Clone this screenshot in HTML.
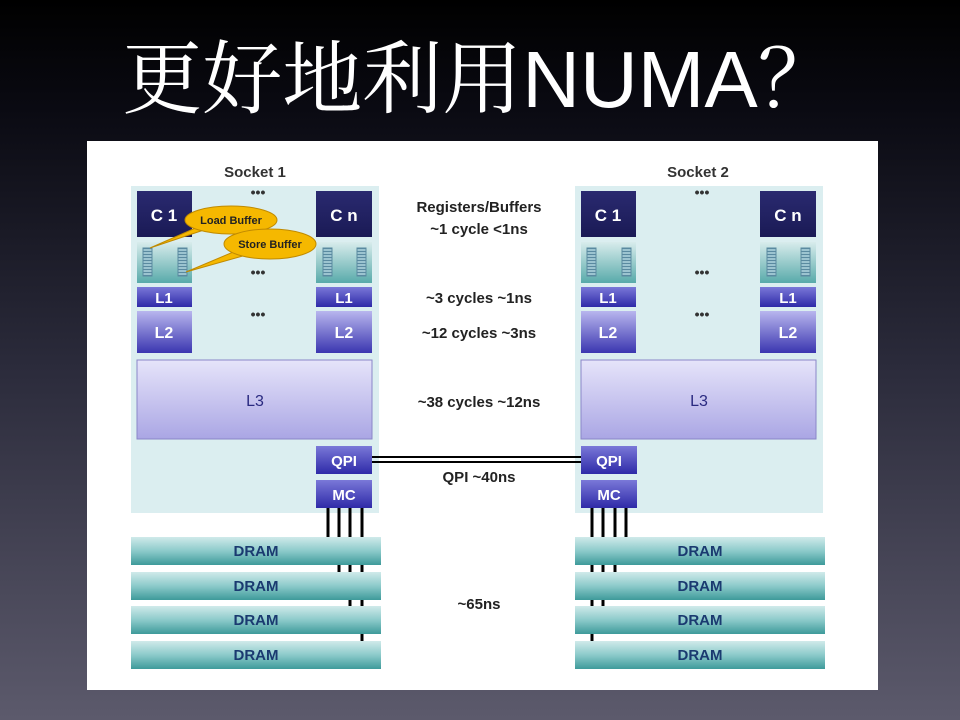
<!DOCTYPE html>
<html><head><meta charset="utf-8"><style>
html,body{margin:0;padding:0;width:960px;height:720px;overflow:hidden}
body{background:linear-gradient(#000 0%,#0a0a12 15%,#2a2a3a 50%,#5c5a6c 100%)}
.t{position:absolute;left:0;top:30px;width:960px;text-align:center;color:#fff;font-size:80px;font-family:"Liberation Sans","Noto Serif CJK SC",serif;line-height:100px}
svg{position:absolute;left:0;top:0}
text{font-family:"Liberation Sans",sans-serif;font-weight:bold}
</style></head><body>
<div class="t">更好地利用NUMA？</div>
<svg width="960" height="720" viewBox="0 0 960 720">
<defs>
<linearGradient id="core" x1="0" y1="0" x2="0" y2="1"><stop offset="0" stop-color="#2a2a70"/><stop offset="1" stop-color="#1a1a55"/></linearGradient>
<linearGradient id="blu" x1="0" y1="0" x2="0" y2="1"><stop offset="0" stop-color="#7a78d8"/><stop offset="1" stop-color="#2e2aa8"/></linearGradient>
<linearGradient id="l2" x1="0" y1="0" x2="0" y2="1"><stop offset="0" stop-color="#b8b6ee"/><stop offset="1" stop-color="#3a36b0"/></linearGradient>
<linearGradient id="l3" x1="0" y1="0" x2="0" y2="1"><stop offset="0" stop-color="#e6e4fa"/><stop offset="1" stop-color="#aaa6e4"/></linearGradient>
<linearGradient id="buf" x1="0" y1="0" x2="0" y2="1"><stop offset="0" stop-color="#d8ecec"/><stop offset="1" stop-color="#58aaaa"/></linearGradient>
<linearGradient id="dram" x1="0" y1="0" x2="0" y2="1"><stop offset="0" stop-color="#d0eaea"/><stop offset="0.5" stop-color="#8ccaca"/><stop offset="1" stop-color="#3e9a9a"/></linearGradient>
<pattern id="stripe" x="0" y="248" width="9" height="3" patternUnits="userSpaceOnUse"><rect width="9" height="3" fill="#9cc4d0"/><rect width="9" height="1" fill="#5a8aa0"/></pattern>
<g id="sock">
<rect x="131" y="186" width="248" height="327" fill="#dbeef0"/>
<rect x="137" y="191" width="55" height="46" fill="url(#core)"/>
<text x="164" y="221" fill="#fff" font-size="17" text-anchor="middle">C 1</text>
<rect x="316" y="191" width="56" height="46" fill="url(#core)"/>
<text x="344" y="221" fill="#fff" font-size="17" text-anchor="middle">C n</text>
<rect x="137" y="242" width="55" height="41" fill="url(#buf)"/>
<rect x="316" y="242" width="56" height="41" fill="url(#buf)"/>
<g fill="url(#stripe)" stroke="#5a8aa0" stroke-width="1">
<rect x="143" y="248" width="9" height="28"/><rect x="178" y="248" width="9" height="28"/>
<rect x="323" y="248" width="9" height="28"/><rect x="357" y="248" width="9" height="28"/></g>
<rect x="137" y="287" width="55" height="20" fill="url(#blu)"/>
<rect x="316" y="287" width="56" height="20" fill="url(#blu)"/>
<text x="164" y="303" fill="#fff" font-size="15" text-anchor="middle">L1</text>
<text x="344" y="303" fill="#fff" font-size="15" text-anchor="middle">L1</text>
<rect x="137" y="311" width="55" height="42" fill="url(#l2)"/>
<rect x="316" y="311" width="56" height="42" fill="url(#l2)"/>
<text x="164" y="338" fill="#fff" font-size="16" text-anchor="middle">L2</text>
<text x="344" y="338" fill="#fff" font-size="16" text-anchor="middle">L2</text>
<rect x="137" y="360" width="235" height="79" fill="url(#l3)" stroke="#8a86c8"/>
<text x="255" y="406" fill="#2a2a80" font-size="16" style="font-weight:normal" text-anchor="middle">L3</text>
<text x="258" y="197" fill="#333" font-size="14" text-anchor="middle">•••</text>
<text x="258" y="277" fill="#333" font-size="14" text-anchor="middle">•••</text>
<text x="258" y="319" fill="#333" font-size="14" text-anchor="middle">•••</text>
<g fill="url(#dram)">
<rect x="131" y="537" width="250" height="28"/><rect x="131" y="572" width="250" height="28"/>
<rect x="131" y="606" width="250" height="28"/><rect x="131" y="641" width="250" height="28"/></g>
<g fill="#1a3a70" font-size="15" text-anchor="middle">
<text x="256" y="556">DRAM</text><text x="256" y="591">DRAM</text><text x="256" y="625">DRAM</text><text x="256" y="660">DRAM</text></g>
</g>
</defs>
<rect x="87" y="141" width="791" height="549" fill="#fff"/>
<use href="#sock"/>
<use href="#sock" transform="translate(444,0)"/>
<text x="255" y="177" fill="#333" font-size="15" text-anchor="middle">Socket 1</text>
<text x="698" y="177" fill="#333" font-size="15" text-anchor="middle">Socket 2</text>
<g stroke="#000" stroke-width="2"><line x1="372" y1="457" x2="581" y2="457"/><line x1="372" y1="462" x2="581" y2="462"/></g>
<g>
<rect x="316" y="446" width="56" height="28" fill="url(#blu)"/><text x="344" y="466" fill="#fff" font-size="15" text-anchor="middle">QPI</text>
<rect x="316" y="480" width="56" height="28" fill="url(#blu)"/><text x="344" y="500" fill="#fff" font-size="15" text-anchor="middle">MC</text>
<rect x="581" y="446" width="56" height="28" fill="url(#blu)"/><text x="609" y="466" fill="#fff" font-size="15" text-anchor="middle">QPI</text>
<rect x="581" y="480" width="56" height="28" fill="url(#blu)"/><text x="609" y="500" fill="#fff" font-size="15" text-anchor="middle">MC</text>
</g>
<g stroke="#000" stroke-width="3">
<line x1="328" y1="508" x2="328" y2="537"/><line x1="339" y1="508" x2="339" y2="537"/><line x1="350" y1="508" x2="350" y2="537"/><line x1="362" y1="508" x2="362" y2="537"/>
<line x1="339" y1="565" x2="339" y2="572"/><line x1="350" y1="565" x2="350" y2="572"/><line x1="362" y1="565" x2="362" y2="572"/>
<line x1="350" y1="600" x2="350" y2="606"/><line x1="362" y1="600" x2="362" y2="606"/>
<line x1="362" y1="634" x2="362" y2="641"/>
<line x1="592" y1="508" x2="592" y2="537"/><line x1="603" y1="508" x2="603" y2="537"/><line x1="615" y1="508" x2="615" y2="537"/><line x1="626" y1="508" x2="626" y2="537"/>
<line x1="592" y1="565" x2="592" y2="572"/><line x1="603" y1="565" x2="603" y2="572"/><line x1="615" y1="565" x2="615" y2="572"/>
<line x1="592" y1="600" x2="592" y2="606"/><line x1="603" y1="600" x2="603" y2="606"/>
<line x1="592" y1="634" x2="592" y2="641"/>
</g>
<g fill="#222" font-size="15" text-anchor="middle">
<text x="479" y="212">Registers/Buffers</text>
<text x="479" y="234">~1 cycle &lt;1ns</text>
<text x="479" y="303">~3 cycles ~1ns</text>
<text x="479" y="338">~12 cycles ~3ns</text>
<text x="479" y="407">~38 cycles ~12ns</text>
<text x="479" y="482">QPI ~40ns</text>
<text x="479" y="609">~65ns</text>
</g>
<g fill="#f5b800" stroke="#c08a00" stroke-width="1">
<path d="M150,248 L200,226 L210,228 Z"/>
<ellipse cx="231" cy="220" rx="46" ry="14"/>
<path d="M186,272 L238,250 L250,254 Z"/>
<ellipse cx="270" cy="244" rx="46" ry="15"/>
</g>
<text x="231" y="224" fill="#222" font-size="11" text-anchor="middle">Load Buffer</text>
<text x="270" y="248" fill="#222" font-size="11" text-anchor="middle">Store Buffer</text>
</svg>
</body></html>
